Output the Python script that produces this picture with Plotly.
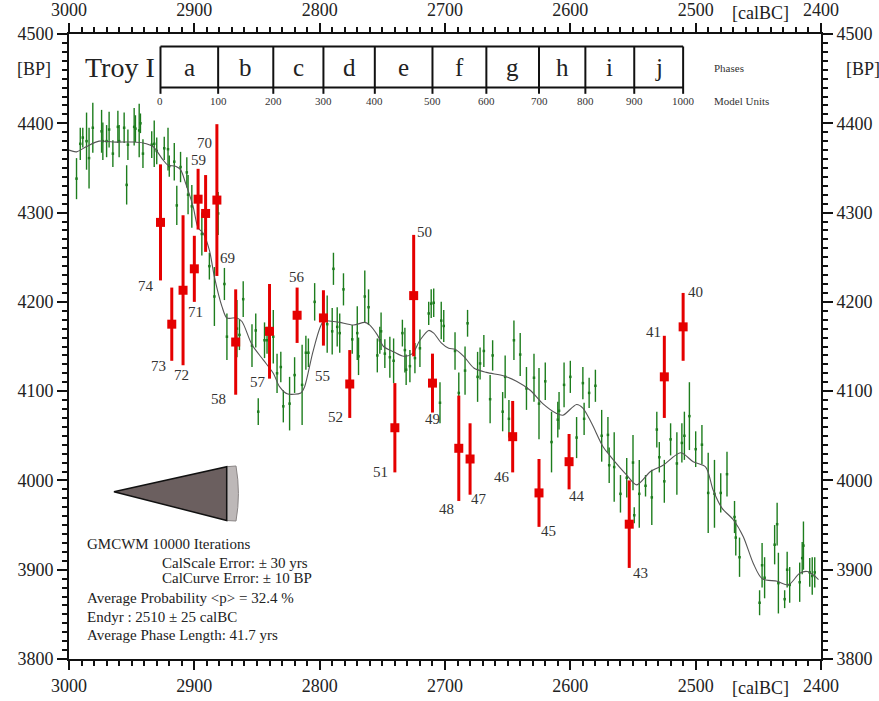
import plotly.graph_objects as go

# ---------------- data ----------------
# calibration curve data points (calBC, BP, +-BP)
cal_year = [2994, 2991, 2989, 2986, 2984, 2981, 2974, 2973, 2970, 2968, 2965, 2961, 2960, 2956, 2954,
            2953, 2948, 2947, 2944, 2943, 2941, 2934, 2932, 2930, 2924, 2921, 2920, 2916, 2914, 2911,
            2906, 2905, 2902, 2894, 2891, 2888, 2884, 2881, 2876, 2874, 2866, 2864, 2861, 2854, 2851,
            2849, 2844, 2842, 2837, 2834, 2831, 2829, 2824, 2820, 2814, 2811, 2809, 2804, 2794, 2790,
            2789, 2786, 2784, 2781, 2774, 2770, 2769, 2764, 2761, 2754, 2752, 2751, 2748, 2744, 2741,
            2734, 2732, 2731, 2728, 2724, 2720, 2713, 2711, 2709, 2704, 2703, 2701, 2692, 2689, 2684,
            2682, 2674, 2672, 2669, 2664, 2662, 2654, 2652, 2649, 2645, 2640, 2635, 2629, 2625, 2620,
            2615, 2610, 2609, 2605, 2600, 2595, 2590, 2589, 2585, 2580, 2575, 2570, 2569, 2565, 2560,
            2555, 2550, 2549, 2545, 2540, 2535, 2531, 2529, 2525, 2520, 2515, 2511, 2509, 2505, 2500,
            2495, 2490, 2485, 2480, 2475, 2469, 2468, 2465, 2449, 2447, 2445, 2437, 2435, 2434, 2429,
            2427, 2425, 2417, 2415, 2414, 2409, 2407, 2405]
cal_bp = [4338, 4377, 4384, 4380, 4361, 4395, 4391, 4380, 4380, 4393, 4366, 4396, 4380, 4395, 4331,
          4376, 4396, 4394, 4392, 4400, 4366, 4376, 4377, 4369, 4372, 4371, 4352, 4357, 4308, 4351,
          4345, 4320, 4307, 4276, 4280, 4240, 4206, 4299, 4220, 4161, 4170, 4163, 4203, 4151, 4168,
          4077, 4157, 4157, 4161, 4120, 4127, 4083, 4086, 4118, 4107, 4143, 4143, 4200, 4175, 4167,
          4237, 4172, 4165, 4214, 4158, 4165, 4139, 4206, 4194, 4140, 4157, 4167, 4142, 4138, 4134,
          4165, 4146, 4124, 4128, 4137, 4148, 4187, 4198, 4199, 4087, 4179, 4173, 4145, 4098, 4123,
          4176, 4116, 4131, 4145, 4091, 4140, 4077, 4116, 4069, 4157, 4141, 4103, 4115, 4086, 4111,
          4043, 4068, 4078, 4107, 4116, 4048, 4109, 4069, 4098, 4106, 4050, 4051, 4017, 4015, 3985,
          4003, 4020, 3961, 3985, 3994, 3981, 4057, 4026, 3999, 4046, 4019, 4042, 4050, 4072, 4035,
          4040, 3986, 3985, 3986, 4007, 3959, 3936, 3914, 3863, 3905, 3891, 3928, 3951, 3885, 3867,
          3900, 3883, 3886, 3913, 3927, 3897, 3893, 3897]
cal_err = [23, 18, 11, 32, 34, 28, 24, 21, 18, 20, 15, 18, 18, 17, 22,
           17, 21, 15, 30, 11, 16, 15, 26, 15, 13, 24, 12, 21, 22, 17,
           17, 22, 24, 24, 19, 15, 33, 24, 18, 26, 32, 17, 20, 24, 19,
           15, 20, 15, 30, 22, 17, 18, 30, 20, 45, 19, 16, 21, 32, 26,
           18, 22, 22, 18, 16, 30, 21, 29, 20, 19, 15, 21, 16, 23, 25,
           15, 25, 17, 18, 17, 21, 13, 16, 16, 23, 21, 18, 21, 23, 27,
           15, 28, 18, 18, 27, 17, 22, 24, 21, 22, 24, 24, 27, 40, 21,
           34, 20, 21, 25, 18, 23, 18, 18, 17, 18, 29, 20, 20, 39, 21,
           22, 31, 9, 38, 12, 31, 20, 17, 24, 18, 35, 22, 27, 38, 20,
           22, 45, 38, 22, 25, 18, 20, 22, 14, 25, 23, 22, 24, 34, 10,
           20, 20, 22, 18, 27, 16, 21, 17]

# smoothed calibration curve
curve_year = [3000, 2994, 2986, 2976, 2965, 2949, 2941, 2933, 2925, 2921, 2915, 2911, 2907, 2901,
              2897, 2893, 2888, 2884, 2878, 2874, 2866, 2862, 2854, 2845, 2837, 2832, 2826, 2815,
              2812, 2805, 2797, 2789, 2784, 2773, 2764, 2760, 2754, 2749, 2741, 2733, 2726, 2720,
              2713, 2709, 2703, 2697, 2692, 2685, 2677, 2667, 2653, 2643, 2632, 2622, 2611, 2606,
              2595, 2590, 2583, 2574, 2568, 2555, 2547, 2536, 2526, 2512, 2502, 2492, 2486, 2479,
              2470, 2462, 2454, 2447, 2435, 2426, 2417, 2411, 2406, 2402]
curve_bp = [4370, 4368, 4374, 4380, 4379, 4379, 4378, 4374, 4359, 4353, 4352, 4348, 4333, 4307,
            4283, 4277, 4258, 4228, 4195, 4182, 4182, 4178, 4152, 4135, 4120, 4105, 4097, 4098,
            4105, 4146, 4178, 4178, 4177, 4174, 4177, 4174, 4163, 4150, 4144, 4139, 4142, 4157,
            4168, 4165, 4154, 4148, 4147, 4139, 4126, 4121, 4117, 4111, 4101, 4086, 4075, 4073,
            4085, 4081, 4064, 4038, 4027, 4006, 3995, 4010, 4017, 4031, 4021, 4015, 3989, 3969,
            3956, 3937, 3907, 3890, 3887, 3883, 3896, 3898, 3894, 3889]

# dated samples (red)
sample_id = ["74", "73", "72", "71", "59", "69", "70", "58", "57", "56", "55", "52", "51",
             "50", "49", "48", "47", "46", "45", "44", "43", "41", "40"]
sample_year = [2927, 2918, 2909, 2900, 2897, 2891, 2882, 2867, 2840, 2818, 2797, 2776, 2740,
               2725, 2710, 2689, 2680, 2646, 2625, 2601, 2553, 2525, 2510]
sample_bp = [4289, 4175, 4213, 4237, 4315, 4299, 4314, 4155, 4167, 4185, 4182, 4108, 4059,
             4207, 4109, 4036, 4024, 4049, 3986, 4021, 3951, 4116, 4172]
sample_err = [65, 41, 84, 37, 34, 43, 85, 59, 53, 31, 31, 38, 50,
              68, 33, 59, 40, 40, 38, 31, 49, 46, 38]

# phases (model units -> calendar boundaries)
phase_letters = ["a", "b", "c", "d", "e", "f", "g", "h", "i", "j"]
model_units = [0, 100, 200, 300, 400, 500, 600, 700, 800, 900, 1000]
phase_bounds = [2927, 2881, 2837, 2797, 2756, 2710, 2667, 2625, 2588, 2549, 2510]

info_lines = ["GMCWM 10000 Iterations",
              "CalScale Error: \u00b1 30 yrs",
              "CalCurve Error: \u00b1 10 BP",
              "Average Probability <p> = 32.4 %",
              "Endyr : 2510 \u00b1 25 calBC",
              "Average Phase Length: 41.7 yrs"]

# ---------------- layout helpers (styles / positions) ----------------
label_dx = [-14, -13, -2, 1, 0, 22, -12, -17, -12, 0, -1, -14, -14, 11, 0, -12, 9, -11, 9, 8, 11, -11, 12]
label_dy = [64, 42, 85, 43, -39, 45, -57, 57, 51, -38, 58, 33, 44, -64, 36, 61, 40, 40, 38, 34, 49, -45, -35]
info_x = [0.021, 0.121, 0.121, 0.021, 0.021, 0.021]
info_y = [0.1835, 0.153, 0.129, 0.097, 0.0677, 0.0384]

FONT = "Liberation Serif, Times New Roman, serif"
GREEN = "#1d7d1d"
RED = "#e50000"

fig = go.Figure()

fig.add_trace(go.Scatter(
    x=cal_year, y=cal_bp, mode="markers",
    marker=dict(color=GREEN, size=2.5, symbol="square"),
    error_y=dict(type="data", array=cal_err, visible=True, color=GREEN, thickness=1.4, width=0),
    showlegend=False, hoverinfo="skip"))

fig.add_trace(go.Scatter(
    x=curve_year, y=curve_bp, mode="lines",
    line=dict(color="#555555", width=1.1, shape="spline", smoothing=0.8),
    showlegend=False, hoverinfo="skip"))

fig.add_trace(go.Scatter(
    x=sample_year, y=sample_bp, mode="markers",
    marker=dict(color=RED, size=9, symbol="square"),
    error_y=dict(type="data", array=sample_err, visible=True, color=RED, thickness=3, width=0),
    showlegend=False, hoverinfo="skip"))

# dummy trace to activate top/right axes
fig.add_trace(go.Scatter(x=[curve_year[0]], y=[curve_bp[0]], xaxis="x2", yaxis="y2",
                         mode="markers", marker=dict(opacity=0), showlegend=False, hoverinfo="skip"))

annotations = []
for sid, yr, bp, dx, dy in zip(sample_id, sample_year, sample_bp, label_dx, label_dy):
    annotations.append(dict(x=yr, y=bp, xref="x", yref="y", text=sid, showarrow=False,
                            xanchor="center", yanchor="middle",
                            xshift=dx, yshift=-dy, font=dict(family=FONT, size=15, color="#333333")))

# phase box
box_top, box_bot, tick_bot, unit_y, letter_y = 4486, 4440, 4433, 4425, 4462
shapes = []
shapes.append(dict(type="line", x0=phase_bounds[0], x1=phase_bounds[-1], y0=box_top, y1=box_top,
                   xref="x", yref="y", line=dict(color="#111", width=2)))
shapes.append(dict(type="line", x0=phase_bounds[0], x1=phase_bounds[-1], y0=box_bot, y1=box_bot,
                   xref="x", yref="y", line=dict(color="#111", width=2)))
for b, mu in zip(phase_bounds, model_units):
    shapes.append(dict(type="line", x0=b, x1=b, y0=box_top, y1=tick_bot, xref="x", yref="y",
                       line=dict(color="#111", width=2)))
    annotations.append(dict(x=b, y=unit_y, xref="x", yref="y", text=str(mu), showarrow=False,
                            xanchor="center", yanchor="middle",
                            font=dict(family=FONT, size=11, color="#333")))
for i, letter in enumerate(phase_letters):
    annotations.append(dict(x=(phase_bounds[i] + phase_bounds[i + 1]) / 2, y=letter_y, xref="x", yref="y",
                            text=letter, showarrow=False, xanchor="center", yanchor="middle",
                            font=dict(family=FONT, size=25, color="#222")))
annotations.append(dict(x=2959, y=letter_y, xref="x", yref="y", text="Troy I", showarrow=False,
                        xanchor="center", yanchor="middle",
                        font=dict(family=FONT, size=28, color="#222")))
annotations.append(dict(x=2487, y=letter_y, xref="x", yref="y", text="Phases", showarrow=False,
                        xanchor="left", yanchor="middle", font=dict(family=FONT, size=11, color="#333")))
annotations.append(dict(x=2487, y=unit_y, xref="x", yref="y", text="Model Units", showarrow=False,
                        xanchor="left", yanchor="middle", font=dict(family=FONT, size=11, color="#333")))

# info text
for t, xx, yy in zip(info_lines, info_x, info_y):
    annotations.append(dict(x=xx, y=yy, xref="paper", yref="paper", text=t.replace("<", "&lt;").replace(">", "&gt;"),
                            showarrow=False, xanchor="left", yanchor="middle",
                            font=dict(family=FONT, size=15, color="#222")))

# axis unit labels
for xx in (-0.046, 1.056):
    annotations.append(dict(x=xx, y=4461, xref="paper", yref="y", text="[BP]", showarrow=False,
                            xanchor="center", yanchor="middle",
                            font=dict(family=FONT, size=18, color="#222")))
annotations.append(dict(x=0.919, y=1.034, xref="paper", yref="paper", text="[calBC]", showarrow=False,
                        xanchor="center", yanchor="middle",
                        font=dict(family=FONT, size=18, color="#222")))
annotations.append(dict(x=0.919, y=-0.047, xref="paper", yref="paper", text="[calBC]", showarrow=False,
                        xanchor="center", yanchor="middle",
                        font=dict(family=FONT, size=18, color="#222")))

# wedge
shapes.append(dict(type="path", xref="paper", yref="paper",
                   path="M 0.2097 0.3077 L 0.2221 0.3088 Q 0.2285 0.2645 0.2221 0.2208 L 0.2097 0.2216 Z",
                   fillcolor="#bdb8b8", line=dict(color="#8a8585", width=1)))
shapes.append(dict(type="path", xref="paper", yref="paper",
                   path="M 0.0598 0.2677 L 0.2097 0.3077 L 0.2097 0.2216 Z",
                   fillcolor="#6b5f5f", line=dict(color="#111", width=1.5)))

axis_common = dict(
    showline=True, linewidth=2, linecolor="#111", ticks="outside", tickcolor="#111",
    tickwidth=1.5, showgrid=False, zeroline=False, automargin=False,
    tickfont=dict(family=FONT, size=18, color="#222"))

minor_style = dict(dtick=10, ticklen=5, ticks="outside", tickcolor="#111", tickwidth=1.5)

fig.update_layout(
    width=879, height=701,
    margin=dict(l=69, r=58, t=34, b=42, autoexpand=False),
    paper_bgcolor="white", plot_bgcolor="white",
    showlegend=False,
    xaxis=dict(range=[3000, 2400], dtick=100, tick0=3000, ticklen=9, minor=minor_style, **axis_common),
    xaxis2=dict(range=[3000, 2400], dtick=100, tick0=3000, ticklen=9, overlaying="x", side="top",
                matches="x", minor=minor_style, **axis_common),
    yaxis=dict(range=[3800, 4500], dtick=100, tick0=3800, ticklen=10, minor=minor_style, **axis_common),
    yaxis2=dict(range=[3800, 4500], dtick=100, tick0=3800, ticklen=10, overlaying="y", side="right",
                matches="y", minor=minor_style, **axis_common),
    annotations=annotations,
    shapes=shapes,
)

fig.write_html("out.html")
